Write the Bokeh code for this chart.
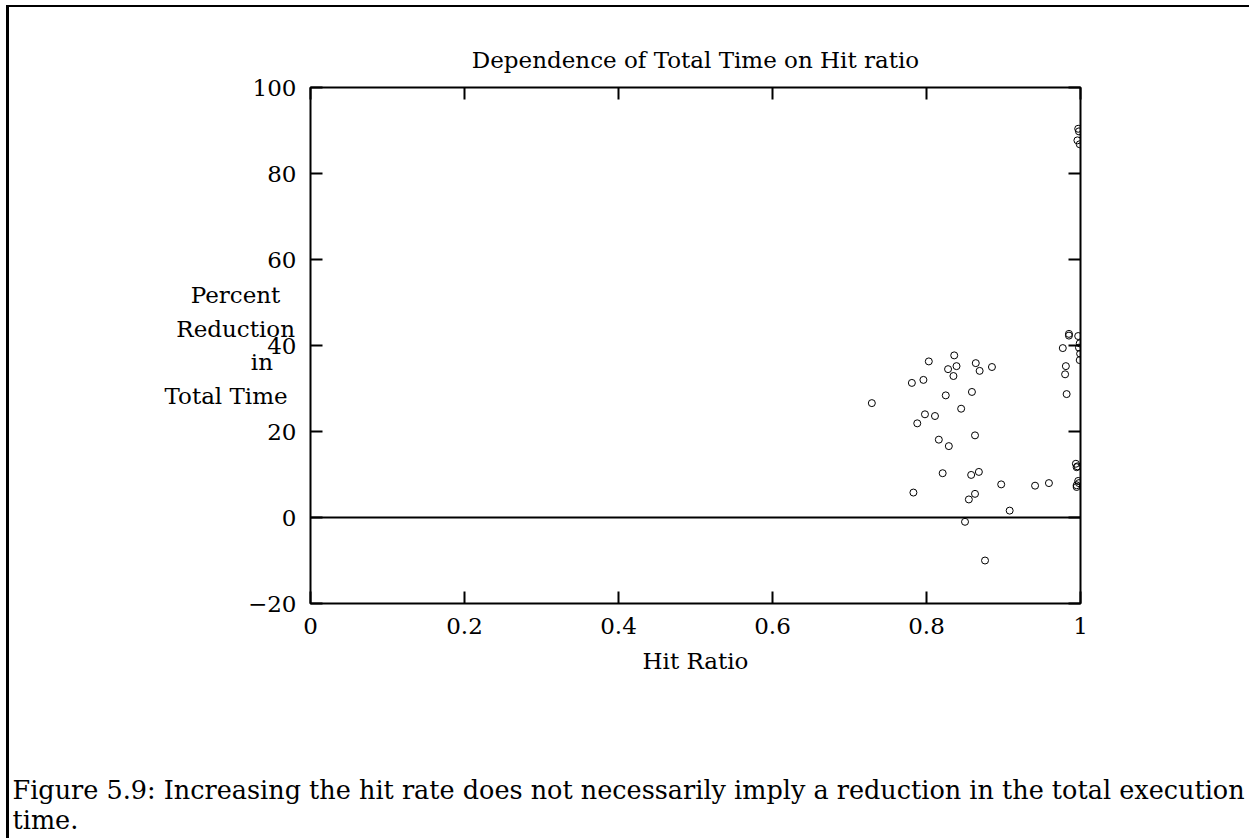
from bokeh.plotting import figure
from bokeh.models import LinearAxis, FixedTicker, Span, Title
from bokeh.embed import file_html
from bokeh.resources import INLINE

# ---- data ----
hit_ratio = [0.729, 0.781, 0.796, 0.803, 0.836, 0.828, 0.839, 0.835, 0.864, 0.869,
             0.885, 0.825, 0.859, 0.845, 0.798, 0.811, 0.788, 0.863, 0.816, 0.829,
             0.821, 0.858, 0.868, 0.897, 0.941, 0.959, 0.783, 0.863, 0.855, 0.908,
             0.850, 0.876,
             0.985, 0.985, 0.997, 0.977, 0.999, 0.998, 0.9995, 0.999, 0.981, 0.980,
             0.982, 0.994, 0.996, 0.995, 0.997, 0.998, 0.995, 0.995,
             0.997, 0.998, 0.996, 0.999]
reduction = [26.6, 31.3, 32.0, 36.3, 37.7, 34.5, 35.2, 32.9, 35.9, 34.1,
             35.0, 28.4, 29.2, 25.3, 24.0, 23.6, 21.9, 19.1, 18.1, 16.6,
             10.3, 9.9, 10.6, 7.7, 7.4, 8.0, 5.8, 5.5, 4.2, 1.6,
             -1.0, -10.0,
             42.7, 42.3, 42.2, 39.4, 40.5, 39.5, 38.1, 36.6, 35.2, 33.3,
             28.7, 12.5, 11.9, 11.7, 8.5, 8.0, 7.5, 7.1,
             90.4, 89.8, 87.7, 86.8]

x_ticks = [0, 0.2, 0.4, 0.6, 0.8, 1]
x_tick_labels = ["0", "0.2", "0.4", "0.6", "0.8", "1"]
y_ticks = [-20, 0, 20, 40, 60, 80, 100]
y_tick_labels = ["\u221220", "0", "20", "40", "60", "80", "100"]

title_text = "Dependence of Total Time on Hit ratio"
x_label = "Hit Ratio"
y_label_lines = ["Percent", "Reduction", "in", "Total Time"]
y_label_pad = [2, 0, 3, 1]   # trailing no-break spaces to mimic the reference's line placement
caption_lines = ["Figure 5.9: Increasing the hit rate does not necessarily imply a reduction in the total execution",
                 "time."]

FONT = "DejaVu Serif"
FS = "23px"
W, H = 1243, 833

p = figure(width=W, height=H, output_backend="svg", toolbar_location=None,
           x_range=(0, 1), y_range=(-20, 100),
           min_border_left=301, min_border_right=172,
           min_border_top=80, min_border_bottom=236,
           x_axis_location=None, y_axis_location=None,
           styles={"border-left": "3px solid black", "border-top": "2px solid black",
                   "margin-left": "6px", "margin-top": "5px"})
p.grid.visible = False
p.outline_line_color = "black"
p.outline_line_width = 2
p.background_fill_color = "white"
p.border_fill_color = "white"

p.title.text = title_text
p.title.align = "center"
p.title.text_font = FONT
p.title.text_font_size = FS
p.title.text_font_style = "normal"
p.title.text_color = "black"
p.title.standoff = 29


def make_axis(ticks, labels, show):
    ax = LinearAxis(ticker=FixedTicker(ticks=ticks))
    ax.major_label_overrides = {t: (l if show else "") for t, l in zip(ticks, labels)}
    ax.axis_line_color = None
    ax.major_tick_in = 12
    ax.major_tick_out = 0
    ax.major_tick_line_width = 2
    ax.minor_tick_line_color = None
    ax.major_label_text_font = FONT
    ax.major_label_text_font_size = FS if show else "0px"
    ax.major_label_text_color = "black"
    ax.axis_label_text_font = FONT
    ax.axis_label_text_font_size = FS
    ax.axis_label_text_font_style = "normal"
    ax.axis_label_text_color = "black"
    if not show:
        ax.major_label_standoff = 0
    return ax


xb = make_axis(x_ticks, x_tick_labels, True)
xb.major_label_standoff = 14
xb.axis_label = x_label
xb.axis_label_standoff = 11
xt = make_axis(x_ticks, x_tick_labels, False)
yl = make_axis(y_ticks, y_tick_labels, True)
yl.major_label_standoff = 14
yl.axis_label = "\n".join(t + "\u00a0" * n for t, n in zip(y_label_lines, y_label_pad))
yl.axis_label_text_line_height = 1.3
try:
    yl.axis_label_orientation = "horizontal"
    yl.axis_label_standoff = -50
except AttributeError:
    pass
yr = make_axis(y_ticks, y_tick_labels, False)
p.add_layout(xb, "below")
p.add_layout(xt, "above")
p.add_layout(yl, "left")
p.add_layout(yr, "right")

# caption: three spacer lines push the two caption lines toward the bottom of the page
caption = Title(text="\n".join(["\u00a0"] * 3 + caption_lines), align="left", offset=-298,
                text_font=FONT, text_font_size="25.5px", text_font_style="normal",
                text_color="black", text_line_height=1.0, standoff=12)
p.add_layout(caption, "below")

p.add_layout(Span(location=0, dimension="width", line_color="black", line_width=2))

p.scatter(hit_ratio, reduction, marker="circle", size=7, fill_color=None,
          line_color="black", line_width=1)

open("out.html", "w").write(file_html(p, INLINE))
